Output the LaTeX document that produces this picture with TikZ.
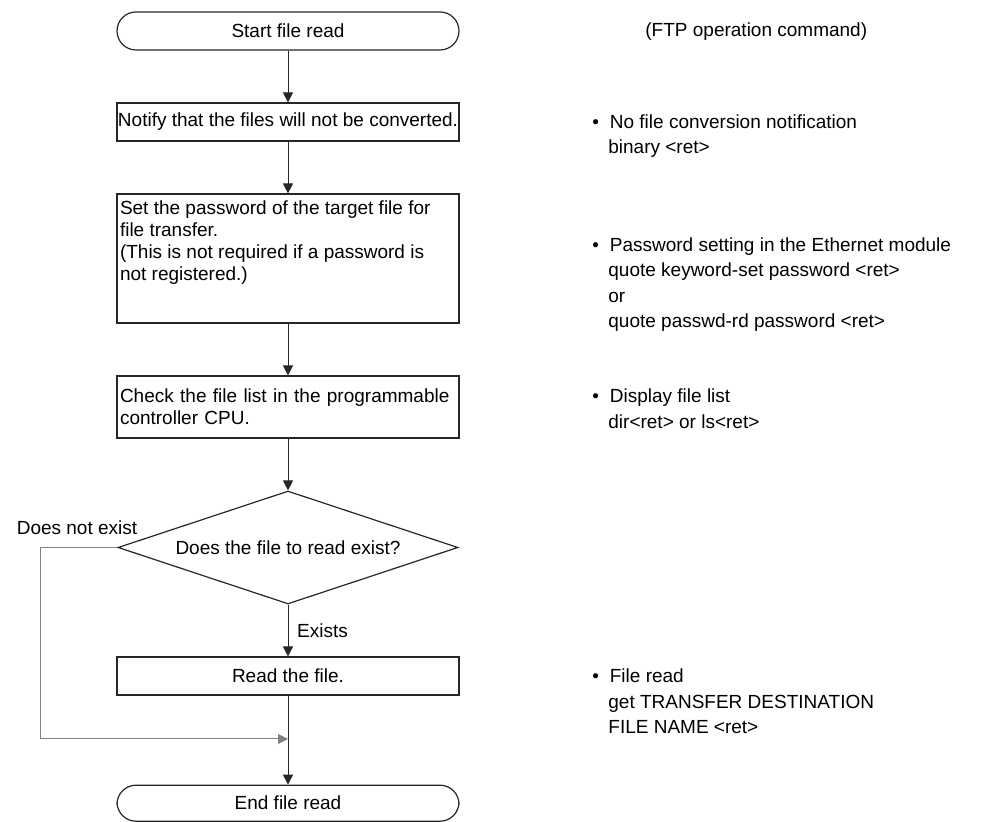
\documentclass[tikz,border=0pt]{standalone}
\usepackage{fontspec}
\setmainfont{Liberation Sans}
\usetikzlibrary{positioning,arrows.meta,shapes.geometric}
\newcommand\notebullet{\makebox[8.75pt][l]{\textbullet}}
\newcommand\noteindent{\hspace*{8pt}}

\begin{document}
\begin{tikzpicture}[x=0.5pt,y=-0.5pt,font=\fontsize{9.5pt}{11pt}\selectfont,>={Triangle[length=5pt,width=5pt]},node distance=25.9pt,
  term/.style={draw=black!85,line width=0.6pt,rounded corners=9.5pt,minimum width=171pt,minimum height=19pt,inner sep=0pt},
  proc/.style={draw=black!85,line width=0.6pt,minimum width=171pt,minimum height=19pt,inner sep=0pt,align=center},
  dec/.style={diamond,draw=black!85,line width=0.6pt,aspect=3,inner sep=0pt,minimum width=170pt,minimum height=56.5pt},
  note/.style={anchor=west,align=left,inner sep=0pt,font=\fontsize{9.5pt}{12.75pt}\selectfont},
  flow/.style={->,draw=black!85,line width=0.5pt},
  skip/.style={->,draw=black!50,line width=0.5pt}]
  \useasboundingbox (0,0) rectangle (997,822);
  % flow chart
  \node[term] (start) at (288,31) {Start file read};
  \node[proc,below=of start] (conv) {Notify that the files will not be converted.};
  \node[proc,below=of conv,minimum height=64.5pt] (pwd) {\parbox[t][58pt][t]{168pt}{Set the password of the target file for\\file transfer.\\(This is not required if a password is\\not registered.)}};
  \node[proc,below=of pwd,minimum height=31pt,text width=168pt,align=left] (chk) {Check the file list in the programmable\\controller CPU.};
  \node[dec,below=of chk] (exist) {Does the file to read exist?};
  \node[proc,below=of exist] (read) {Read the file.};
  \node[term,below=44.5pt of read,minimum height=18pt] (stop) {End file read};
  \node (nolbl) at (77,528) {Does not exist};
  \coordinate (back) at (40,739);
  \coordinate (merge) at (288,739);
  \draw[flow] (start) -- (conv);
  \draw[flow] (conv) -- (pwd);
  \draw[flow] (pwd) -- (chk);
  \draw[flow] (chk) -- (exist);
  \draw[flow] (exist) -- node[right=1pt] (yeslbl) {Exists} (read);
  \draw[flow] (read) -- (stop);
  \draw[skip] (exist.west) -| (back) -- (merge);
  % commands
  \node[note] (ftp) at (645,32) {(FTP operation command)};
  \node[note] (convnote) at (592,136) {\notebullet No file conversion notification\\\noteindent binary <ret>};
  \node[note] (pwdnote) at (592,284.5) {\notebullet Password setting in the Ethernet module\\\noteindent quote keyword-set password <ret>\\\noteindent or\\\noteindent quote passwd-rd password <ret>};
  \node[note] (chknote) at (592,408.5) {\notebullet Display file list\\\noteindent dir<ret> or ls<ret>};
  \node[note] (readnote) at (592,701.5) {\notebullet File read\\\noteindent get TRANSFER DESTINATION\\\noteindent FILE NAME <ret>};
\end{tikzpicture}
\end{document}
